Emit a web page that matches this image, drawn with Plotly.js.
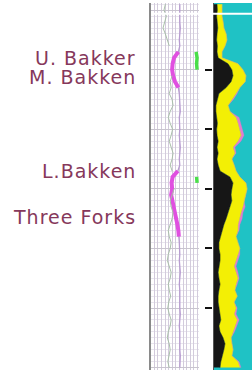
<!DOCTYPE html>
<html><head><meta charset="utf-8">
<script src="https://cdn.plot.ly/plotly-3.0.1.min.js"></script>
<style>
html,body{margin:0;padding:0;background:#fff;}
text.annotation-text{letter-spacing:1px;}
</style>
</head><body>
<div id="chart" style="width:252px;height:370px;"></div>
<script>
// depth samples (ft)
const depth = [10695,10700,10705,10710,10715,10720,10725,10730,10735,10740,
  10745,10750,10755,10760,10765,10770,10775,10780,10785,10790,
  10795,10800,10805,10810,10815,10820,10825,10830,10835,10840,
  10845,10850,10855,10860,10865,10870,10875,10880,10885,10890,
  10895,10900,10905,10910,10915,10920,10925,10930,10935,10940,
  10945,10950,10955,10960,10965,10970,10975,10980,10985,10990,
  10995,11000];
// track 1 curves (scale 0-100)
const gr = [60,60,59,60,61,60,59,60,57,48,
  45,44,46,50,57,59,60,60,61,59,
  60,60,59,60,61,60,59,60,56,45,
  43,44,42,45,47,50,53,55,57,58,
  59,60,60,59,60,61,60,59,60,60,
  59,60,61,60,59,60,60,59,60,61,
  60,60];
const res = [30,27,32,28,25,30,34,38,94,96,
  95,96,44,40,42,38,44,46,40,36,
  40,45,42,38,42,46,44,40,44,95,
  96,48,44,40,42,46,44,40,36,38,
  42,40,36,34,38,42,40,36,38,41,
  37,35,38,42,40,36,34,38,40,37,
  35,38];
// track 2 lithology edges (scale 0-100)
const blackEdge = [8,9,7,8,10,8,7,9,8,11,
  37,47,50,45,32,13,8,5,5,8,
  9,7,8,11,8,11,8,11,16,42,
  50,47,45,47,42,39,32,26,21,16,
  13,13,16,16,13,11,13,16,13,11,
  11,13,16,18,13,16,24,29,26,21,
  18,16];
const yellowEdge = [21,21,21,24,26,32,34,29,21,21,
  63,76,84,82,68,58,47,37,42,58,
  63,68,71,63,50,55,47,53,58,68,
  84,87,84,79,76,71,68,63,63,58,
  63,68,63,58,53,58,63,58,55,61,
  53,58,53,61,55,50,45,47,50,47,
  63,68];
const pinkEdge = [21,21,21,24,26,32,34,29,21,21,
  63,76,84,82,68,61,51,37,42,66,
  71,76,79,71,55,58,47,53,58,68,
  84,87,84,79,82,76,74,68,66,58,
  63,68,68,63,58,63,66,61,55,61,
  53,61,58,66,60,54,45,47,50,47,
  66,71];
// zones
const grZoneTop = [10735, 10835];
const grZoneBase = [10765, 10890];
const resZoneTop = [10735, 10840];
const resZoneBase = [10750, 10845];
// depth ticks
const depthTicks = [10750, 10800, 10850, 10900, 10950];
// formation labels
const formNames = ["U. Bakker", "M. Bakken", "L.Bakken", "Three Forks"];
const formDepths = [10740, 10756, 10835, 10874];
const headerDepth = 10703;

function inZone(d, tops, bases){
  for (let i=0;i<tops.length;i++){ if (d>=tops[i] && d<=bases[i]) return true; }
  return false;
}
const grBold = gr.map((v,i)=> inZone(depth[i],grZoneTop,grZoneBase)? v : null);
const resBright = res.map((v,i)=> inZone(depth[i],resZoneTop,resZoneBase)? v : null);
const resFaint = res.map((v,i)=> inZone(depth[i],resZoneTop,resZoneBase)? null : v);

const traces = [
  {x: gr, y: depth, xaxis:'x', yaxis:'y', mode:'lines', line:{color:'#b79bd0', width:1.3}, hoverinfo:'skip'},
  {x: grBold, y: depth, xaxis:'x', yaxis:'y', mode:'lines', line:{color:'#e050e0', width:4}, connectgaps:false, hoverinfo:'skip'},
  {x: resFaint, y: depth, xaxis:'x', yaxis:'y', mode:'lines', line:{color:'#a9c0a9', width:1}, connectgaps:false, hoverinfo:'skip'},
  {x: resBright, y: depth, xaxis:'x', yaxis:'y', mode:'lines', line:{color:'#4ade4a', width:3.5}, connectgaps:false, hoverinfo:'skip'},
  {x: blackEdge, y: depth, xaxis:'x2', yaxis:'y2', mode:'lines', fill:'tozerox', fillcolor:'#161616', line:{color:'#161616', width:0.5}, hoverinfo:'skip'},
  {x: yellowEdge, y: depth, xaxis:'x2', yaxis:'y2', mode:'lines', fill:'tonextx', fillcolor:'#f3ef05', line:{color:'#f3ef05', width:0.5}, hoverinfo:'skip'},
  {x: pinkEdge, y: depth, xaxis:'x2', yaxis:'y2', mode:'lines', fill:'tonextx', fillcolor:'#e07ccf', line:{color:'#e07ccf', width:0.3}, hoverinfo:'skip'},
  {x: [null], y: [null], xaxis:'x', yaxis:'y3', mode:'lines', hoverinfo:'skip'}
];

const yTop = 1 - 3/370;
const layout = {
  width:252, height:370, margin:{l:0,r:0,t:0,b:0,pad:0},
  paper_bgcolor:'#ffffff', plot_bgcolor:'rgba(0,0,0,0)', showlegend:false,
  xaxis:{domain:[151/252, 199/252], range:[0,100], tick0:7, dtick:7.5, showgrid:true, gridcolor:'#d3cbdc', gridwidth:1,
    showticklabels:false, ticks:'', zeroline:false, showline:false, fixedrange:true},
  yaxis:{domain:[0,yTop], range:[11002,10694], anchor:'x', dtick:50, showgrid:true, gridcolor:'#c9c5cf',
    minor:{dtick:5, showgrid:true, gridcolor:'#e9e6ee'},
    showticklabels:false, ticks:'', zeroline:false, showline:true, linecolor:'#8a8a8a', linewidth:2, fixedrange:true},
  xaxis2:{domain:[214/252, 1], range:[0,100], anchor:'y2', showgrid:false, showticklabels:false, ticks:'', zeroline:false, showline:false, fixedrange:true},
  yaxis2:{domain:[0,yTop], matches:'y', anchor:'x2', showgrid:false, showticklabels:false, ticks:'', zeroline:false,
    showline:true, linecolor:'#555', linewidth:1.5, fixedrange:true},
  yaxis3:{overlaying:'y', matches:'y', anchor:'free', position:212/252, side:'left', ticks:'outside', ticklen:7, tickwidth:2,
    tickcolor:'#111', tickmode:'array', tickvals:depthTicks, showticklabels:false, showgrid:false, showline:false, zeroline:false, fixedrange:true},
  shapes:[
    {type:'rect', xref:'x2 domain', yref:'y2 domain', x0:0, x1:1, y0:0, y1:1, fillcolor:'#1fc2c5', line:{width:0}, layer:'below'},
    {type:'line', xref:'paper', yref:'y', x0:151/252, x1:1, y0:headerDepth, y1:headerDepth, line:{color:'#ffffff', width:2}}
  ],
  annotations: formNames.map((t,i)=>({text:t, xref:'paper', yref:'y', x:138/252, y:formDepths[i], xanchor:'right', yanchor:'middle',
    showarrow:false, font:{family:'DejaVu Sans', size:19, color:'#86385b'}}))
};
Plotly.newPlot('chart', traces, layout, {displayModeBar:false, staticPlot:true});
</script>
</body></html>
